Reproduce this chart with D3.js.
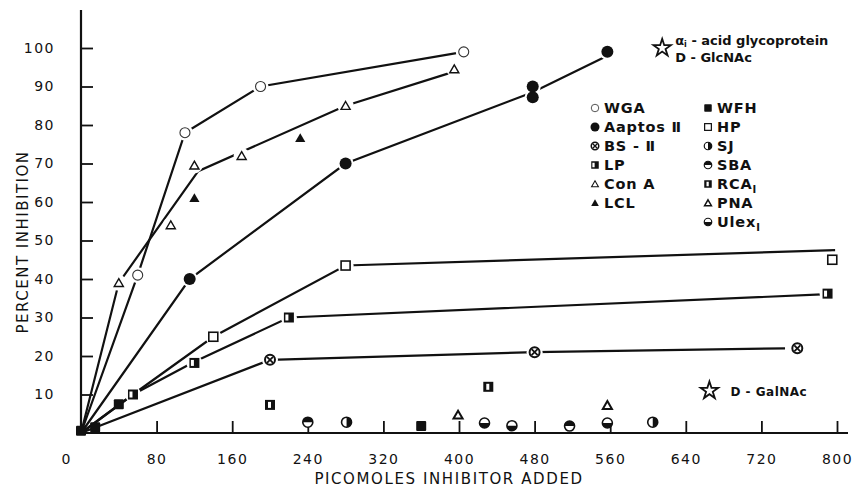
<!DOCTYPE html>
<html>
<head>
<meta charset="utf-8">
<script src="https://cdn.jsdelivr.net/npm/d3@7"></script>
<style>
  body { margin: 0; background: #fff; }
  text { font-family: "DejaVu Sans", sans-serif; fill: #111; }
</style>
</head>
<body>
<div class="chart"></div>
<script>
// axis ticks
const xTicks = [0, 80, 160, 240, 320, 400, 480, 560, 640, 720, 800];
const yTicks = [10, 20, 30, 40, 50, 60, 70, 80, 90, 100];

// drawn curves (picomoles, percent inhibition)
const wgaLine = [[0, 0], [60, 41], [110, 78], [190, 90], [405, 99]];
const conALine = [[0, 0], [40, 39], [124, 68], [280, 85], [394, 93.8]];
const aaptosLine = [[0, 0], [115, 40], [280, 70], [478, 88.5], [557, 98]];
const hpLine = [[0, 0], [55, 10], [140, 25], [280, 43.5], [798, 47.5]];
const lpLine = [[0, 0], [55, 10], [120, 18.5], [220, 30], [784, 36]];
const bsLine = [[0, 0], [200, 19], [480, 21], [745, 22]];

// measured points
const wga = [[60, 41], [110, 78], [190, 90], [405, 99]];
const aaptos = [[115, 40], [280, 70], [478, 90], [478, 87.2], [557, 99]];
const bs = [[200, 19], [480, 21], [758, 22]];
const lp = [[55, 10], [120, 18.2], [220, 30], [790, 36.2]];
const conA = [[40, 39], [95, 54], [120, 69.5], [170, 72], [280, 85], [395, 94.5]];
const lcl = [[120, 61], [232, 76.6]];
const wfh = [[0, 0.6], [15, 1.5], [40, 7.5], [360, 1.8]];
const hp = [[140, 25], [280, 43.5], [795, 45]];
const sj = [[281, 2.8], [605, 2.8]];
const sba = [[240, 2.8], [517, 1.8]];
const rca = [[200, 7.3], [431, 12]];
const pna = [[399, 4.7], [557, 7.2]];
const ulex = [[427, 2.6], [456, 1.9], [557, 2.6]];

// reference sugars (stars)
const stars = [[615, 100], [665, 11]];

const width = 857, height = 493;

const svg = d3.select(".chart").append("svg")
    .attr("width", width)
    .attr("height", height);

const x = d3.scaleLinear().domain([0, 800]).range([81, 837]);
const y = d3.scaleLinear().domain([0, 100]).range([433, 48]);

// axes
const xAxis = svg.append("g")
    .attr("transform", "translate(0," + y(0) + ")")
    .call(d3.axisBottom(x).tickValues(xTicks.slice(1)).tickSizeInner(-12).tickSizeOuter(0).tickPadding(27));
xAxis.select(".domain").remove();
xAxis.selectAll(".tick line").attr("stroke", "#111").attr("stroke-width", 1.8);
xAxis.selectAll(".tick text").attr("font-size", 14).attr("letter-spacing", 1.5).attr("fill", "#111")
    .attr("dy", "0.3em");
svg.append("text").attr("x", 66).attr("y", y(0) + 31).attr("text-anchor", "middle")
    .attr("font-size", 14).text(xTicks[0]);

const yAxis = svg.append("g")
    .attr("transform", "translate(" + x(0) + ",0)")
    .call(d3.axisLeft(y).tickValues(yTicks).tickSizeInner(-12).tickSizeOuter(0).tickPadding(26));
yAxis.select(".domain").remove();
yAxis.selectAll(".tick line").attr("stroke", "#111").attr("stroke-width", 1.8);
yAxis.selectAll(".tick text").attr("font-size", 14).attr("letter-spacing", 1.5).attr("fill", "#111");

svg.append("line").attr("x1", x(0)).attr("x2", 848).attr("y1", y(0)).attr("y2", y(0))
    .attr("stroke", "#111").attr("stroke-width", 2.2);
svg.append("line").attr("x1", x(0)).attr("x2", x(0)).attr("y1", y(0)).attr("y2", 10)
    .attr("stroke", "#111").attr("stroke-width", 2.2);

svg.append("text")
    .attr("transform", "translate(28," + 242 + ") rotate(-90)")
    .attr("text-anchor", "middle").attr("font-size", 15).attr("letter-spacing", 1.5)
    .text("PERCENT INHIBITION");
svg.append("text")
    .attr("x", 449).attr("y", 484).attr("text-anchor", "middle")
    .attr("font-size", 15).attr("letter-spacing", 1.6)
    .text("PICOMOLES INHIBITOR ADDED");

// curves
const line = d3.line().x(d => x(d[0])).y(d => y(d[1]));
[wgaLine, conALine, aaptosLine, hpLine, lpLine, bsLine].forEach(function(c) {
  svg.append("path").datum(c).attr("d", line)
      .attr("fill", "none").attr("stroke", "#111").attr("stroke-width", 2.2);
});

// marker drawing, centred on (0,0) inside g
function marker(g, type) {
  const r = 5;
  const k = "#111";
  if (type == "wga") {
    g.append("circle").attr("r", r).attr("fill", "#fff").attr("stroke", "#333").attr("stroke-width", 1.1);
  } else if (type == "aaptos") {
    g.append("circle").attr("r", r + 1).attr("fill", k);
  } else if (type == "bs") {
    g.append("circle").attr("r", r).attr("fill", "#fff").attr("stroke", k).attr("stroke-width", 2);
    g.append("path").attr("d", "M-3,-3L3,3M3,-3L-3,3").attr("stroke", k).attr("stroke-width", 1.8);
  } else if (type == "lp" || type == "rca") {
    g.append("rect").attr("x", -r).attr("y", -r).attr("width", 2 * r).attr("height", 2 * r).attr("fill", k);
    g.append("rect").attr("x", type == "lp" ? -r + 1.5 : -2).attr("y", -r + 2)
        .attr("width", 3).attr("height", 2 * r - 4).attr("fill", "#fff");
  } else if (type == "conA" || type == "pna") {
    g.append("path").attr("d", d3.symbol(d3.symbolTriangle, 36)())
        .attr("transform", "translate(0,1)")
        .attr("fill", "#fff").attr("stroke", k).attr("stroke-width", type == "pna" ? 2 : 1.4);
  } else if (type == "lcl") {
    g.append("path").attr("d", d3.symbol(d3.symbolTriangle, 45)())
        .attr("transform", "translate(0,1)").attr("fill", k);
  } else if (type == "wfh") {
    g.append("rect").attr("x", -r).attr("y", -r).attr("width", 2 * r).attr("height", 2 * r).attr("rx", 1).attr("fill", k);
  } else if (type == "hp") {
    g.append("rect").attr("x", -r + 0.5).attr("y", -r + 0.5).attr("width", 2 * r - 1).attr("height", 2 * r - 1)
        .attr("fill", "#fff").attr("stroke", k).attr("stroke-width", 1.6);
  } else {
    // half filled circles: sj (right dark), sba (top dark), ulex (bottom dark)
    g.append("circle").attr("r", r).attr("fill", "#fff").attr("stroke", k).attr("stroke-width", 1.6);
    let d;
    if (type == "sj") d = `M0,${-r}A${r},${r} 0 0 1 0,${r}Z`;
    else if (type == "sba") d = `M${-r},0A${r},${r} 0 0 1 ${r},0Z`;
    else d = `M${-r},0A${r},${r} 0 0 0 ${r},0Z`;
    g.append("path").attr("d", d).attr("fill", k);
  }
}

const series = [
  ["wga", wga, true], ["aaptos", aaptos, true], ["bs", bs, true], ["lp", lp, true],
  ["conA", conA, true], ["lcl", lcl, false], ["wfh", wfh, false], ["hp", hp, true],
  ["sj", sj, false], ["sba", sba, false], ["rca", rca, false], ["pna", pna, false], ["ulex", ulex, false]
];

// white gaps round points that sit on a curve
const gaps = svg.append("g");
series.forEach(function(s) {
  if (!s[2]) return;
  s[1].forEach(function(p) {
    gaps.append("circle").attr("cx", x(p[0])).attr("cy", y(p[1])).attr("r", 8).attr("fill", "#fff");
  });
});

const marks = svg.append("g");
series.forEach(function(s) {
  s[1].forEach(function(p) {
    marker(marks.append("g").attr("transform", `translate(${x(p[0])},${y(p[1])})`), s[0]);
  });
});

// stars
const starPath = d3.symbol(d3.symbolStar, 95)();
stars.forEach(function(p) {
  svg.append("path").attr("d", starPath).attr("transform", `translate(${x(p[0])},${y(p[1])})`)
      .attr("fill", "#fff").attr("stroke", "#111").attr("stroke-width", 1.8);
});
const topLabel = svg.append("text").attr("x", x(stars[0][0]) + 13).attr("y", 45)
    .attr("font-size", 13).attr("font-weight", "bold");
topLabel.append("tspan").text("α");
topLabel.append("tspan").attr("font-size", 8).attr("dy", 2).text("i");
topLabel.append("tspan").attr("dy", -2).text(" - acid glycoprotein");
svg.append("text").attr("x", x(stars[0][0]) + 13).attr("y", 62)
    .attr("font-size", 13).attr("font-weight", "bold").text("D - GlcNAc");
svg.append("text").attr("x", x(stars[1][0]) + 21).attr("y", y(stars[1][1]) + 5)
    .attr("font-size", 12).attr("font-weight", "bold").attr("letter-spacing", 0.5).text("D - GalNAc");

// legend
const legendLeft = [["wga", "WGA"], ["aaptos", "Aaptos Ⅱ"], ["bs", "BS - Ⅱ"], ["lp", "LP"], ["conA", "Con A"], ["lcl", "LCL"]];
const legendRight = [["wfh", "WFH"], ["hp", "HP"], ["sj", "SJ"], ["sba", "SBA"], ["rca", "RCA", "I"], ["pna", "PNA"], ["ulex", "Ulex", "I"]];
const leg = svg.append("g");
function legendCol(items, lx) {
  items.forEach(function(it, i) {
    const ly = 108 + i * 19;
    marker(leg.append("g").attr("transform", `translate(${lx},${ly}) scale(0.75)`), it[0]);
    const t = leg.append("text").attr("x", lx + 9).attr("y", ly + 5)
        .attr("font-size", 14.5).attr("font-weight", "bold").attr("letter-spacing", 0.8).text(it[1]);
    if (it[2]) t.append("tspan").attr("font-size", 10).attr("dy", 4).text(it[2]);
  });
}
legendCol(legendLeft, 595);
legendCol(legendRight, 708);
</script>
</body>
</html>
